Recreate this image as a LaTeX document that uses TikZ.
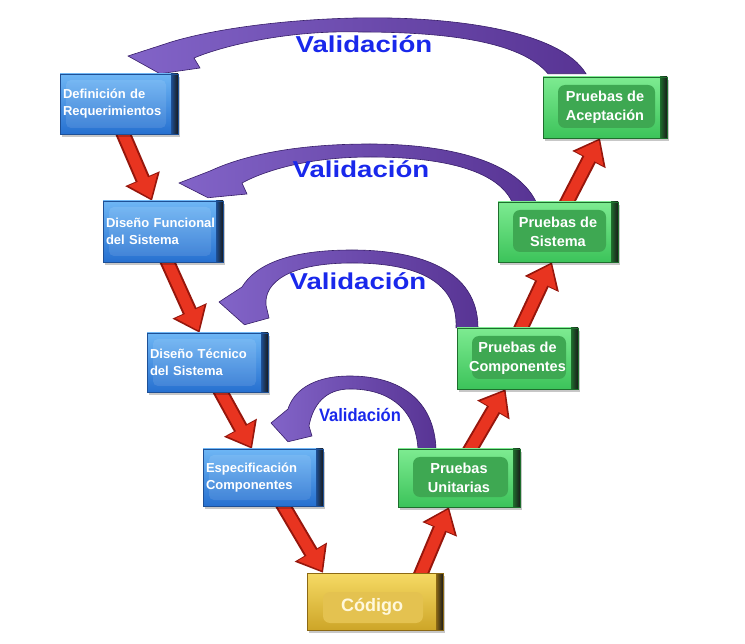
\documentclass[tikz,border=0pt]{standalone}
\usepackage{fontspec}
\setmainfont{Liberation Sans}
\newfontfamily\valfont{Liberation Sans}[FakeStretch=1.2]
\newfontfamily\valsmallfont{Liberation Sans}[FakeStretch=0.92]
\usetikzlibrary{arrows.meta,calc,shadows}
\pgfdeclarelayer{bg}
\pgfsetlayers{bg,main}
\hyphenpenalty=10000
\exhyphenpenalty=10000
\definecolor{valblue}{RGB}{25,40,235}
\definecolor{blueT}{RGB}{110,182,245}
\definecolor{blueB}{RGB}{38,112,208}
\definecolor{blueE}{RGB}{30,80,150}
\definecolor{greenT}{RGB}{125,235,145}
\definecolor{greenB}{RGB}{60,195,90}
\definecolor{greenP}{RGB}{62,168,82}
\definecolor{greenE}{RGB}{30,110,45}
\definecolor{yelT}{RGB}{246,218,100}
\definecolor{yelB}{RGB}{205,165,40}
\definecolor{yelP}{RGB}{228,194,80}
\definecolor{yelE}{RGB}{140,105,20}
\definecolor{yelTxt}{RGB}{255,248,220}
\definecolor{redM}{RGB}{232,52,32}
\definecolor{redD}{RGB}{150,22,12}
\definecolor{purL}{RGB}{130,100,200}
\definecolor{purD}{RGB}{88,52,148}
\definecolor{purE}{RGB}{55,30,105}
\begin{document}
\begin{tikzpicture}[x=1pt,y=-1pt,
  boxbase/.style={rectangle, inner sep=0pt, line width=0.5pt,
     drop shadow={shadow xshift=2pt, shadow yshift=-3pt, opacity=0.22, fill=black}},
  bluebox/.style={boxbase, top color=blueT, bottom color=blueB, draw=blueE,
     text=white, font=\fontsize{13}{17}\selectfont\bfseries, align=left, inner xsep=3pt,
     path picture={
       \fill[white, opacity=0.10, rounded corners=5pt] ([xshift=6pt,yshift=-6pt]path picture bounding box.north west) rectangle ([xshift=-12pt,yshift=6pt]path picture bounding box.south east);
       \shade[left color=blueE, right color=black!90] ([xshift=-7pt]path picture bounding box.north east) rectangle (path picture bounding box.south east);
     }},
  greenbox/.style={boxbase, top color=greenT, bottom color=greenB, draw=greenE,
     text=white, font=\fontsize{14.5}{18.5}\selectfont\bfseries, align=center,
     path picture={
       \fill[greenP, rounded corners=7pt] ([xshift=15pt,yshift=-8pt]path picture bounding box.north west) rectangle ([xshift=-12pt,yshift=10pt]path picture bounding box.south east);
       \shade[left color=greenE, right color=black!90] ([xshift=-7pt]path picture bounding box.north east) rectangle (path picture bounding box.south east);
     }},
  yelbox/.style={boxbase, top color=yelT, bottom color=yelB, draw=yelE,
     path picture={
       \fill[yelP, rounded corners=7pt] ([xshift=16pt,yshift=-19pt]path picture bounding box.north west) rectangle ([xshift=-20pt,yshift=7pt]path picture bounding box.south east);
       \shade[left color=yelE, right color=black!90] ([xshift=-7pt]path picture bounding box.north east) rectangle (path picture bounding box.south east);
     }},
  codtext/.style={text=yelTxt, font=\fontsize{18}{20}\selectfont\bfseries, inner sep=0pt},
  valtext/.style={text=valblue, font=\valfont\bfseries\fontsize{23}{26}\selectfont, inner sep=0pt, anchor=base},
  valsmall/.style={text=valblue, font=\valsmallfont\bfseries\fontsize{18}{20}\selectfont, inner sep=0pt, anchor=base},
  arrowout/.style={draw=redD, line width=15pt, -{Triangle[length=24pt,width=36pt]}},
  arrowin/.style={draw=redM, line width=11pt, shorten >=2.5pt, -{Triangle[length=20.5pt,width=30pt]}},
  arcstyle/.style={left color=purL, right color=purD, draw=purE, line width=0.6pt, line join=miter}
]
\useasboundingbox (0,0) rectangle (745,644);

% boxes
\node[bluebox, minimum width=118, text width=112, minimum height=60] (def) at (119,104) {Definición de\\Requerimientos};
\node[bluebox, minimum width=120, text width=114, minimum height=61] (df) at (163,231.5) {Diseño Funcional\\del Sistema};
\node[bluebox, minimum width=121, text width=115, minimum height=59] (dt) at (207.5,362.5) {Diseño Técnico\\del Sistema};
\node[bluebox, minimum width=120, text width=114, minimum height=57] (esp) at (263,477.5) {Especificación\\Componentes};
\node[yelbox, minimum width=136, minimum height=57] (cod) at (375,601.5) {};
\node[codtext] (codl) at (372,607) {Código};
\node[greenbox, minimum width=122, minimum height=58] (pu) at (459,478) {Pruebas\\Unitarias};
\node[greenbox, minimum width=121, minimum height=61] (pc) at (517.5,358.5) {Pruebas de\\Componentes};
\node[greenbox, minimum width=120, minimum height=60] (ps) at (558,232) {Pruebas de\\Sistema};
\node[greenbox, minimum width=124, minimum height=61] (pa) at (605,107.5) {Pruebas de\\Aceptación};

% labels
\node[valtext] (v1) at (364,53) {Validación};
\node[valtext] (v2) at (361,178) {Validación};
\node[valtext] (v3) at (358,290) {Validación};
\node[valsmall] (v4) at (360,422) {Validación};

% arrow end points
\coordinate (r1s) at ($(def.south)+(1,-8)$);   \coordinate (r1e) at ($(df.north)+(-11,0)$);
\coordinate (r2s) at ($(df.south)+(1,-8)$);    \coordinate (r2e) at ($(dt.north)+(-8,0)$);
\coordinate (r3s) at ($(dt.south)+(9,-8)$);    \coordinate (r3e) at ($(esp.north)+(-11,0)$);
\coordinate (r4s) at ($(esp.south)+(16,-8)$);  \coordinate (r4e) at ($(cod.north)+(-52,0)$);
\coordinate (r5s) at ($(cod.north)+(43,8)$);   \coordinate (r5e) at ($(pu.south)+(-10,0)$);
\coordinate (r6s) at ($(pu.north)+(7,8)$);     \coordinate (r6e) at ($(pc.south)+(-12,0)$);
\coordinate (r7s) at ($(pc.north)+(0,8)$);     \coordinate (r7e) at ($(ps.south)+(-6,0)$);
\coordinate (r8s) at ($(ps.north)+(5,8)$);     \coordinate (r8e) at ($(pa.south)+(-5,0)$);

\begin{pgfonlayer}{bg}
\foreach \i in {1,...,8}{
  \draw[arrowout] (r\i s) -- (r\i e);
  \draw[arrowin] (r\i s) -- (r\i e);
}
% arc 1: Pruebas de Aceptacion -> Definicion
\shadedraw[arcstyle] ($(pa.north)+(-19,-3)$) .. controls (560,30) and (450,16) .. (355,18)
   .. controls (270,20) and (200,32) .. (165,44) -- (128,56) -- ($(def.north)+(41,0)$) -- (200,68) -- (194,58)
   .. controls (225,45) and (290,30) .. (360,32) .. controls (440,32) and (520,40) .. ($(pa.north)+(-57,-3)$) -- cycle;
% arc 2: Pruebas de Sistema -> Diseno Funcional
\shadedraw[arcstyle] ($(ps.north)+(-22,0)$) .. controls (515,158) and (440,144) .. (370,144)
   .. controls (290,144) and (240,157) .. (210,171) -- (179,183) -- ($(df.north)+(45,-3)$) -- (247,194) -- (242,183)
   .. controls (266,170) and (310,157) .. (370,157) .. controls (430,157) and (495,166) .. ($(ps.north)+(-46,0)$) -- cycle;
% arc 3: Pruebas de Componentes -> Diseno Tecnico
\shadedraw[arcstyle] ($(pc.north)+(-39.5,0)$) .. controls (478,270) and (420,250) .. (352,250)
   .. controls (290,250) and (256,264) .. (242,287) -- (219,302) -- ($(dt.north)+(37,-8)$) -- (269,318) -- (266,305)
   .. controls (264,282) and (290,263) .. (352,263) .. controls (418,263) and (458,282) .. ($(pc.north)+(-61.5,0)$) -- cycle;
% arc 4: Pruebas Unitarias -> Especificacion
\shadedraw[arcstyle] ($(pu.north)+(-23,0)$) .. controls (434,400) and (400,376) .. (350,376)
   .. controls (310,376) and (293,393) .. (288,409) -- (271,423) -- ($(esp.north)+(25,-7)$) -- (312,436) -- (309,426)
   .. controls (313,405) and (325,389) .. (350,389) .. controls (385,389) and (415,405) .. ($(pu.north)+(-41,0)$) -- cycle;
\end{pgfonlayer}
\end{tikzpicture}
\end{document}
